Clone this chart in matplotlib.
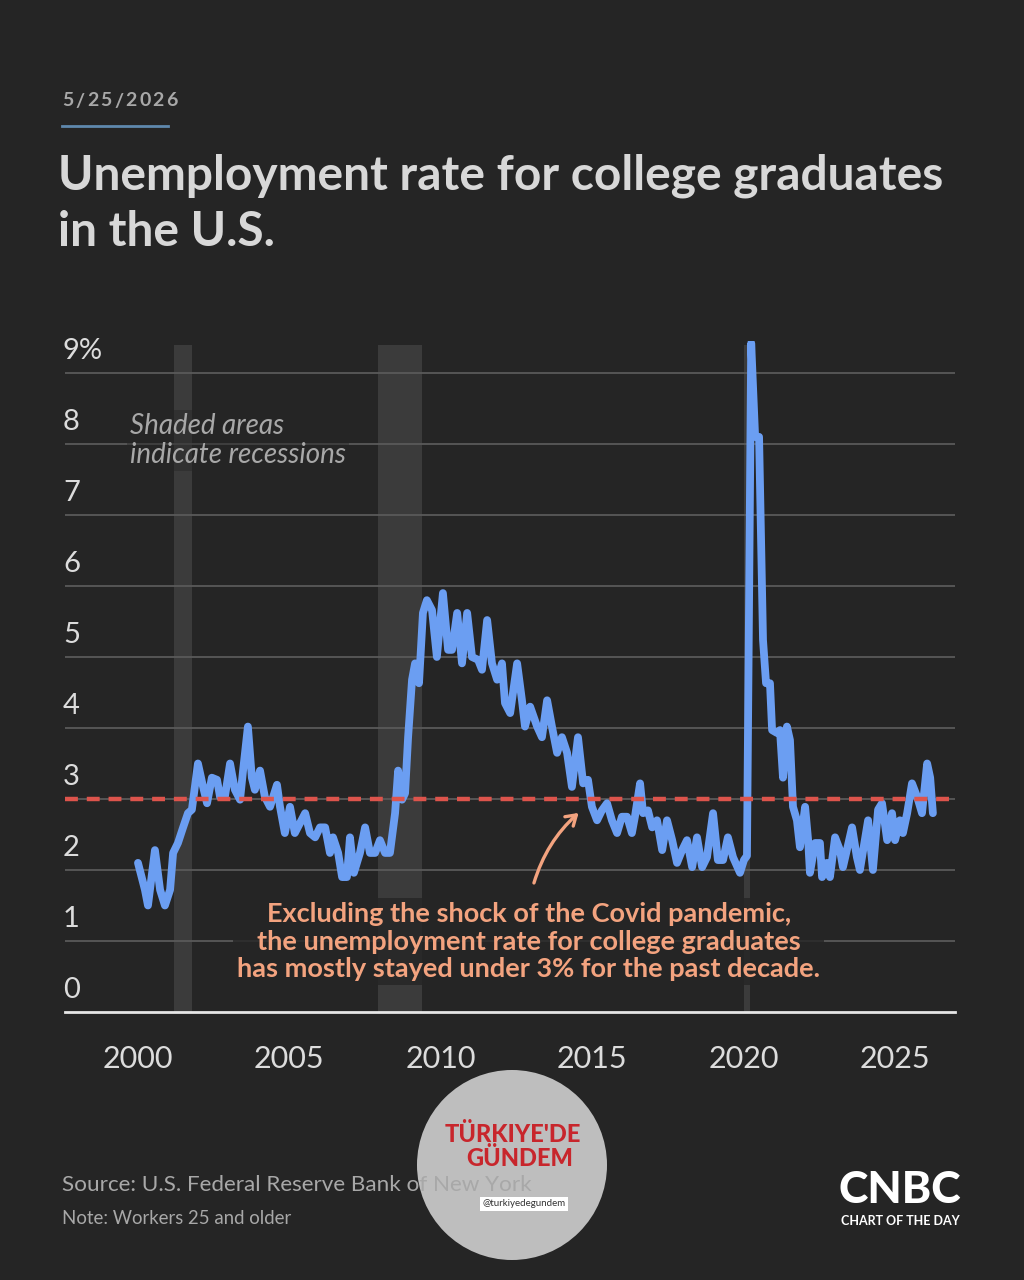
import matplotlib.pyplot as plt
from matplotlib.patches import Circle

plt.rcParams['font.family'] = ['Lato', 'DejaVu Sans']

# unemployment rate, college graduates 25+
years = [2000.00, 2000.23, 2000.33, 2000.56, 2000.73, 2000.89, 2001.06, 2001.16, 2001.32, 2001.49,
         2001.65, 2001.78, 2001.88, 2001.98, 2002.15, 2002.28, 2002.44, 2002.61, 2002.71, 2002.87,
         2003.04, 2003.20, 2003.37, 2003.47, 2003.63, 2003.76, 2003.86, 2004.03, 2004.19, 2004.36,
         2004.59, 2004.69, 2004.85, 2005.02, 2005.18, 2005.35, 2005.52, 2005.68, 2005.85, 2006.01,
         2006.18, 2006.34, 2006.44, 2006.61, 2006.74, 2006.90, 2007.00, 2007.13, 2007.33, 2007.50,
         2007.66, 2007.83, 2007.99, 2008.16, 2008.32, 2008.49, 2008.59, 2008.72, 2008.82, 2008.92,
         2009.05, 2009.15, 2009.28, 2009.41, 2009.54, 2009.71, 2009.87, 2010.07, 2010.24, 2010.37,
         2010.54, 2010.70, 2010.87, 2011.03, 2011.23, 2011.36, 2011.53, 2011.69, 2011.86, 2012.02,
         2012.12, 2012.29, 2012.52, 2012.68, 2012.78, 2012.95, 2013.18, 2013.34, 2013.51, 2013.67,
         2013.84, 2014.00, 2014.17, 2014.33, 2014.53, 2014.70, 2014.86, 2014.99, 2015.16, 2015.32,
         2015.49, 2015.65, 2015.82, 2015.98, 2016.15, 2016.31, 2016.41, 2016.58, 2016.68, 2016.84,
         2016.98, 2017.14, 2017.31, 2017.47, 2017.64, 2017.80, 2017.97, 2018.13, 2018.30, 2018.46,
         2018.63, 2018.79, 2018.99, 2019.15, 2019.32, 2019.48, 2019.65, 2019.88, 2020.01, 2020.11,
         2020.25, 2020.38, 2020.51, 2020.64, 2020.74, 2020.87, 2020.94, 2021.10, 2021.20, 2021.30,
         2021.43, 2021.53, 2021.63, 2021.76, 2021.86, 2022.03, 2022.13, 2022.19, 2022.36, 2022.52,
         2022.59, 2022.75, 2022.85, 2023.02, 2023.18, 2023.28, 2023.58, 2023.74, 2023.84, 2024.11,
         2024.27, 2024.44, 2024.57, 2024.74, 2024.90, 2025.00, 2025.16, 2025.26, 2025.40, 2025.56,
         2025.73, 2025.89, 2026.06, 2026.16, 2026.25]
rate = [2.10, 1.72, 1.50, 2.28, 1.72, 1.50, 1.72, 2.24, 2.38, 2.60,
        2.80, 2.85, 3.17, 3.50, 3.17, 2.94, 3.30, 3.27, 3.03, 3.03,
        3.50, 3.13, 2.99, 3.40, 4.02, 3.30, 3.13, 3.40, 3.03, 2.89,
        3.20, 2.89, 2.52, 2.89, 2.52, 2.66, 2.80, 2.52, 2.46, 2.60,
        2.60, 2.24, 2.46, 2.24, 1.90, 1.90, 2.46, 1.96, 2.24, 2.60,
        2.24, 2.24, 2.42, 2.24, 2.24, 2.80, 3.40, 2.99, 3.08, 3.87,
        4.68, 4.91, 4.63, 5.62, 5.80, 5.66, 5.00, 5.90, 5.10, 5.10,
        5.62, 4.91, 5.62, 5.00, 4.96, 4.82, 5.52, 4.91, 4.68, 4.91,
        4.35, 4.21, 4.91, 4.39, 4.02, 4.30, 4.02, 3.87, 4.39, 4.02,
        3.65, 3.87, 3.65, 3.17, 3.87, 3.22, 3.27, 2.89, 2.70, 2.84,
        2.94, 2.70, 2.52, 2.75, 2.75, 2.52, 2.75, 3.22, 2.80, 2.84,
        2.60, 2.70, 2.28, 2.70, 2.42, 2.10, 2.28, 2.42, 2.04, 2.46,
        2.04, 2.18, 2.80, 2.14, 2.14, 2.46, 2.18, 1.96, 2.14, 2.20,
        9.42, 8.10, 8.10, 5.24, 4.63, 4.63, 3.97, 3.93, 3.97, 3.30,
        4.02, 3.83, 2.89, 2.70, 2.32, 2.89, 2.42, 1.96, 2.38, 2.38,
        1.90, 2.10, 1.90, 2.46, 2.28, 2.04, 2.60, 2.18, 2.00, 2.70,
        2.00, 2.85, 2.94, 2.42, 2.80, 2.42, 2.70, 2.52, 2.80, 3.22,
        3.03, 2.80, 3.50, 3.30, 2.80]

recessions = [(2001.19, 2001.78), (2007.93, 2009.38), (2020.02, 2020.20)]
ytick_vals = [0, 1, 2, 3, 4, 5, 6, 7, 8, 9]
ytick_labels = ['0', '1', '2', '3', '4', '5', '6', '7', '8', '9%']
xtick_vals = [2000, 2005, 2010, 2015, 2020, 2025]

BG = '#252525'
LIGHT = '#dcdcdc'
GREY = '#a8a8a8'
SALMON = '#f3a37f'

fig = plt.figure(figsize=(10.24, 12.8), dpi=100, facecolor=BG)


def px(x, y):
    return x / 1024, 1 - y / 1280


ax = fig.add_axes([65 / 1024, 1 - 1012 / 1280, 890 / 1024, (1012 - 341) / 1280])
ax.set_facecolor(BG)
ax.set_xlim(1997.59, 2026.98)
ax.set_ylim(0, 9.45)

for a, b in recessions:
    ax.axvspan(a, b, ymax=9.4 / 9.45, color='#3b3b3b', lw=0, zorder=0)

for v in ytick_vals[1:]:
    ax.axhline(v, color='#5a5a5a', lw=1.3, zorder=1)

ax.plot(years, rate, color='#6b9ef2', lw=5.6, solid_joinstyle='round',
        solid_capstyle='round', zorder=3)
ax.axhline(3, color='#dd544c', lw=3.2, dashes=(2.9, 2.0), zorder=4)

for spine in ['top', 'right', 'left']:
    ax.spines[spine].set_visible(False)
ax.spines['bottom'].set_color('#e6e6e6')
ax.spines['bottom'].set_linewidth(2)
ax.spines['bottom'].set_zorder(5)

ax.set_yticks([])
ax.set_xticks(xtick_vals)
ax.set_xticklabels([str(v) for v in xtick_vals])
ax.tick_params(axis='x', length=0, pad=24, labelsize=22, labelcolor=LIGHT)

for v, lab in zip(ytick_vals, ytick_labels):
    ax.text(1997.52, v + 0.13, lab, color=LIGHT, fontsize=21, ha='left', va='bottom')

ax.text(1999.74, 8.05, 'Shaded areas\nindicate recessions', color=GREY, fontsize=20,
        fontstyle='italic', ha='left', va='center', linespacing=1.15, zorder=6,
        bbox=dict(facecolor=BG, edgecolor='none', pad=2, alpha=0.45))

ax.text(2012.9, 0.99, 'Excluding the shock of the Covid pandemic,\n'
        'the unemployment rate for college graduates\n'
        'has mostly stayed under 3% for the past decade.',
        color=SALMON, fontsize=19.5, fontweight='bold', ha='center', va='center',
        linespacing=1.17, zorder=6, bbox=dict(facecolor=BG, edgecolor='none', pad=3, alpha=0.8))
ax.annotate('', xy=(2014.62, 2.83), xytext=(2013.05, 1.78),
            arrowprops=dict(arrowstyle='->,head_length=0.7,head_width=0.45', color=SALMON,
                            lw=2.4, connectionstyle='arc3,rad=-0.15'), zorder=6)

# header: letter-spaced date
renderer = fig.canvas.get_renderer()
xpos = 62
for ch in '5/25/2026':
    t = fig.text(*px(xpos, 101), ch, color=GREY, fontsize=14, fontweight='bold',
                 ha='left', va='center')
    xpos += t.get_window_extent(renderer=renderer).width + 2.3
fig.add_artist(plt.Line2D([62 / 1024, 168 / 1024], [1 - 126 / 1280] * 2,
                          color='#5f88ad', lw=2))
fig.text(*px(58, 176), 'Unemployment rate for college graduates', color='#d8d8d8',
         fontsize=34.5, fontweight='bold', ha='left', va='center')
fig.text(*px(58, 232), 'in the U.S.', color='#d8d8d8',
         fontsize=34.5, fontweight='bold', ha='left', va='center')

# footer
fig.text(*px(62, 1185), 'Source: U.S. Federal Reserve Bank of New York', color=GREY,
         fontsize=16.2, ha='left', va='center')
fig.text(*px(62, 1219), 'Note: Workers 25 and older', color=GREY, fontsize=13.4,
         ha='left', va='center')
fig.text(*px(900, 1190), 'CNBC', color='white', fontsize=32, fontweight='black',
         ha='center', va='center')
fig.text(*px(900, 1221), 'CHART OF THE DAY', color='white', fontsize=9,
         fontweight='bold', ha='center', va='center')

# watermark
wm = Circle((5.12, (1280 - 1165) / 100), 0.95, transform=fig.dpi_scale_trans,
            facecolor='#cbcbcb', edgecolor='none', alpha=0.93)
fig.add_artist(wm)
fig.text(*px(513, 1135), "TÜRKIYE'DE", color='#c8262c', fontsize=17, fontweight='black',
         ha='center', va='center')
fig.text(*px(520, 1158), 'GÜNDEM', color='#c8262c', fontsize=17, fontweight='black',
         ha='center', va='center')
fig.text(*px(524, 1204), '@turkiyedegundem', color='#333333', fontsize=7,
         ha='center', va='center',
         bbox=dict(facecolor='white', edgecolor='none', pad=1.5))

fig.savefig('out.png', dpi=100, facecolor=BG)
